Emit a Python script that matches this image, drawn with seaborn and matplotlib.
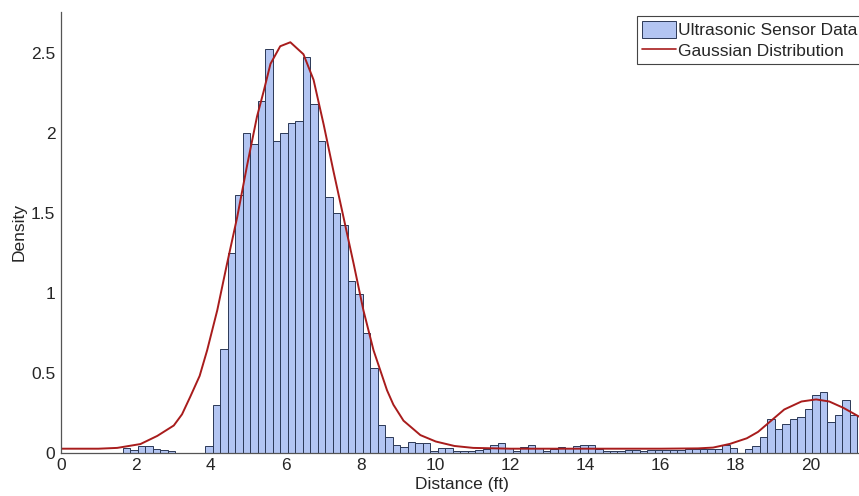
"""
Histogramme des mesures du capteur ultrason + courbe gaussienne ajustee.
Sortie : out.png (859x496)
"""
import numpy as np
import pandas as pd
import matplotlib
matplotlib.use("Agg")
import matplotlib.pyplot as plt
from matplotlib.patches import Patch
from matplotlib.lines import Line2D
from matplotlib.ticker import FuncFormatter
import seaborn as sns

# --- donnees ---
bin_start = 1.65
bin_width = 0.2
density = [
    0.03, 0.015, 0.04, 0.04, 0.02, 0.015, 0.01, 0, 0, 0, 0,          # 1.65 - 3.85
    0.04, 0.30, 0.65, 1.25, 1.61, 2.00, 1.93, 2.20, 2.52, 1.95,      # 3.85 - 5.85
    2.00, 2.06, 2.075, 2.47, 2.18, 1.95, 1.60, 1.50, 1.42, 1.07,     # 5.85 - 7.85
    0.99, 0.75, 0.53, 0.17, 0.10, 0.045, 0.035, 0.065, 0.06, 0.06,   # 7.85 - 9.85
    0.012, 0.03, 0.03, 0.012, 0.012, 0.008, 0.017, 0.02, 0.048, 0.062,  # 9.85 - 11.85
    0.027, 0.012, 0.033, 0.046, 0.027, 0.012, 0.02, 0.037, 0.027, 0.042,  # 11.85 - 13.85
    0.048, 0.048, 0.025, 0.012, 0.012, 0.012, 0.017, 0.015, 0.012, 0.015,  # 13.85 - 15.85
    0.015, 0.015, 0.017, 0.017, 0.02, 0.02, 0.025, 0.025, 0.02, 0.045,     # 15.85 - 17.85
    0.03, 0, 0.025, 0.042, 0.10, 0.21, 0.15, 0.18, 0.21, 0.22,             # 17.85 - 19.85
    0.27, 0.36, 0.38, 0.19, 0.235, 0.33, 0.235,                            # 19.85 - 21.25
]

gauss_x = [0, 1, 1.5, 2.12, 2.57, 3.01, 3.23, 3.45, 3.7, 3.9, 4.17, 4.43,
           4.70, 4.97, 5.23, 5.41, 5.59, 5.85, 6.12, 6.47, 6.74, 7.01, 7.27,
           7.54, 7.81, 8.07, 8.34, 8.70, 8.87, 9.14, 9.59, 10.0, 10.5, 11.0,
           12, 13, 14, 15, 16, 17, 17.4, 17.85, 18.3, 18.6, 18.9, 19.3,
           19.76, 20.15, 20.5, 20.88, 21.3, 21.4]
gauss_y = [0.025, 0.025, 0.03, 0.054, 0.105, 0.17, 0.24, 0.35, 0.48, 0.64,
           0.89, 1.18, 1.47, 1.80, 2.10, 2.26, 2.43, 2.54, 2.565, 2.49, 2.33,
           2.05, 1.76, 1.47, 1.18, 0.89, 0.64, 0.39, 0.30, 0.20, 0.11, 0.07,
           0.042, 0.03, 0.025, 0.025, 0.025, 0.025, 0.025, 0.027, 0.032,
           0.055, 0.09, 0.13, 0.19, 0.27, 0.32, 0.333, 0.32, 0.28, 0.225, 0.21]

x_ticks = [0, 2, 4, 6, 8, 10, 12, 14, 16, 18, 20]
y_ticks = [0, 0.5, 1, 1.5, 2, 2.5]

BAR_COLOR = "#b3c5f2"
EDGE_COLOR = "#2b3856"
LINE_COLOR = "#a81c1c"
FS = 12.5


def main():
    sns.set_style("white")
    plt.rcParams["font.family"] = ["Liberation Sans", "DejaVu Sans"]
    plt.rcParams["font.size"] = FS

    n = len(density)
    centers = bin_start + bin_width * (np.arange(n) + 0.5)
    df = pd.DataFrame({"distance": centers, "density": density})

    fig = plt.figure(figsize=(8.59, 4.96), dpi=100)
    ax = fig.add_axes([0.071, 0.0873, 0.9336, 0.8885])

    sns.histplot(data=df, x="distance", weights="density", stat="count",
                 binwidth=bin_width,
                 binrange=(bin_start, bin_start + bin_width * n),
                 color=BAR_COLOR, edgecolor=EDGE_COLOR, linewidth=0.7,
                 alpha=1, ax=ax)
    sns.lineplot(x=gauss_x, y=gauss_y, color=LINE_COLOR, linewidth=1.4,
                 ax=ax)

    ax.set_xlim(0, 21.4)
    ax.set_ylim(0, 2.754)
    ax.set_xticks(x_ticks)
    ax.set_yticks(y_ticks)
    ax.yaxis.set_major_formatter(FuncFormatter(lambda v, _: f"{v:g}"))
    ax.tick_params(direction="in", length=4, width=0.8, color="#555555",
                   labelsize=FS, pad=4)
    sns.despine(ax=ax)
    for side in ("left", "bottom"):
        ax.spines[side].set_color("#555555")
        ax.spines[side].set_linewidth(0.9)

    ax.set_xlabel("Distance (ft)", fontsize=FS, labelpad=3)
    ax.set_ylabel("Density", fontsize=FS, labelpad=3)

    handles = [Patch(facecolor=BAR_COLOR, edgecolor=EDGE_COLOR, linewidth=0.7),
               Line2D([], [], color=LINE_COLOR, linewidth=1.2)]
    leg = ax.legend(handles, ["Ultrasonic Sensor Data", "Gaussian Distribution"],
                    loc="upper right", bbox_to_anchor=(1.004, 1 - 16 / 496),
                    bbox_transform=fig.transFigure, fancybox=False,
                    framealpha=1, edgecolor="#444444", fontsize=FS,
                    handlelength=1.95, handleheight=1.1, handletextpad=0.12,
                    borderpad=0.3, labelspacing=0.2, borderaxespad=0)
    leg.get_frame().set_linewidth(0.8)

    fig.savefig("out.png", dpi=100)


if __name__ == "__main__":
    main()
